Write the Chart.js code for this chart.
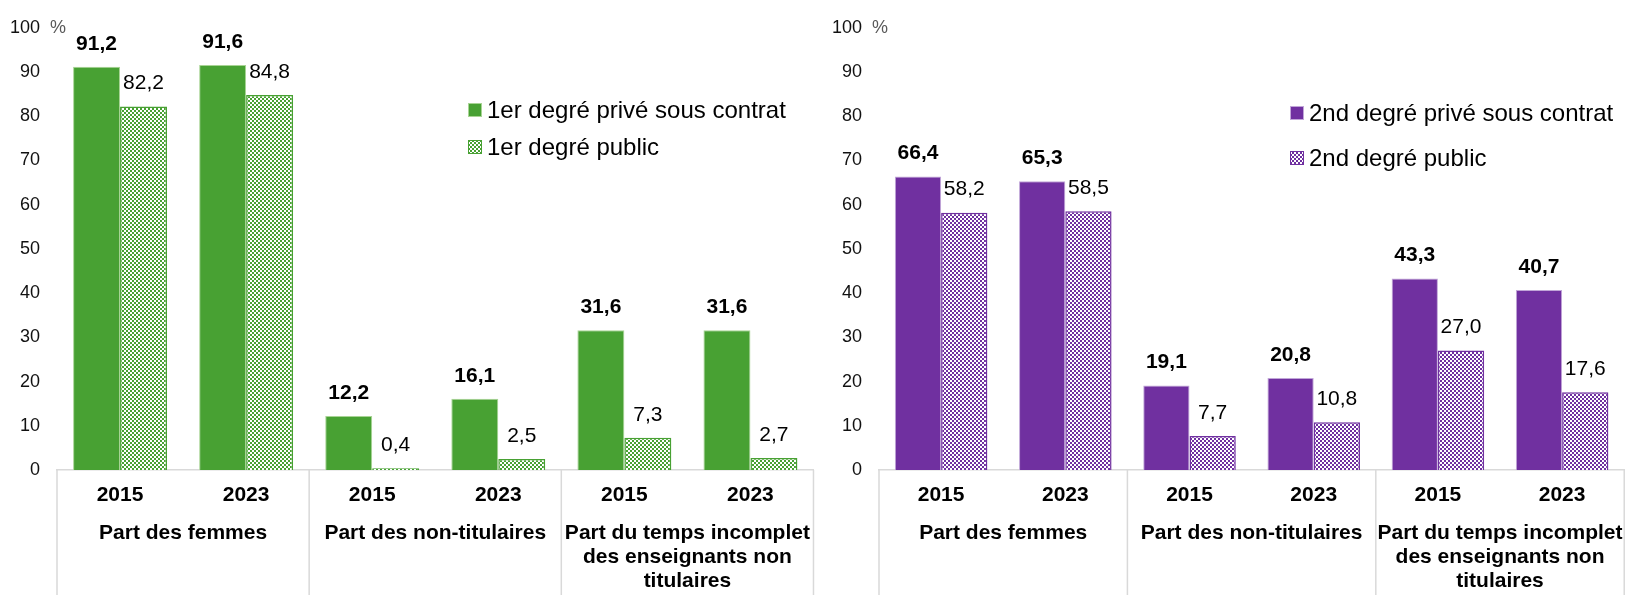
<!DOCTYPE html>
<html>
<head>
<meta charset="utf-8">
<script src="https://cdn.jsdelivr.net/npm/chart.js@4.4.1/dist/chart.umd.min.js"></script>
<style>
  html, body { margin: 0; padding: 0; background: #fff; }
  body { width: 1633px; height: 595px; position: relative; overflow: hidden; }
  .panel { position: absolute; top: 0; height: 595px; }
  #left { left: 0; width: 820px; }
  #right { left: 820px; width: 813px; }
</style>
</head>
<body>
<div class="panel" id="left"><canvas id="chart1" width="820" height="595"></canvas></div>
<div class="panel" id="right"><canvas id="chart2" width="813" height="595"></canvas></div>
<script>
// categories
const years = ["2015", "2023", "2015", "2023", "2015", "2023"];
const groups = [
  ["Part des femmes"],
  ["Part des non-titulaires"],
  ["Part du temps incomplet", "des enseignants non", "titulaires"]
];

// 1er degré
const prive1 = [91.2, 91.6, 12.2, 16.1, 31.6, 31.6];
const public1 = [82.2, 84.8, 0.4, 2.5, 7.3, 2.7];
// 2nd degré
const prive2 = [66.4, 65.3, 19.1, 20.8, 43.3, 40.7];
const public2 = [58.2, 58.5, 7.7, 10.8, 27.0, 17.6];

const seriesNames1 = ["1er degré privé sous contrat", "1er degré public"];
const seriesNames2 = ["2nd degré privé sous contrat", "2nd degré public"];

const FONT = '"Liberation Sans", Arial, sans-serif';
Chart.defaults.font.family = FONT;
Chart.defaults.color = "#000";

const GREEN = "#48a133";
const PURPLE = "#7030a0";

function checker(color) {
  const c = document.createElement("canvas");
  c.width = 4; c.height = 4;
  const g = c.getContext("2d");
  g.fillStyle = "#fff";
  g.fillRect(0, 0, 4, 4);
  g.fillStyle = color;
  g.fillRect(0, 0, 2, 2);
  g.fillRect(2, 2, 2, 2);
  return g.createPattern(c, "repeat");
}

const fmt = v => v.toFixed(1).replace(".", ",");

// boxes under the x axis, one per group
const groupLines = {
  id: "groupLines",
  afterDraw(chart) {
    const { ctx, chartArea, scales: { x } } = chart;
    const xs = [chartArea.left];
    for (let i = 2; i < years.length; i += 2) {
      xs.push((x.getPixelForValue(i - 1) + x.getPixelForValue(i)) / 2);
    }
    xs.push(chartArea.right);
    ctx.save();
    ctx.strokeStyle = "#d9d9d9";
    ctx.lineWidth = 1.5;
    xs.forEach(px => {
      ctx.beginPath();
      ctx.moveTo(px, chartArea.bottom);
      ctx.lineTo(px, chart.height);
      ctx.stroke();
    });
    ctx.restore();
  }
};

const valueLabels = {
  id: "valueLabels",
  afterDatasetsDraw(chart) {
    const ctx = chart.ctx;
    ctx.save();
    ctx.textAlign = "center";
    ctx.textBaseline = "middle";
    ctx.fillStyle = "#000";
    chart.data.datasets.forEach((ds, di) => {
      ctx.font = (di === 0 ? "bold " : "") + "21px " + FONT;
      chart.getDatasetMeta(di).data.forEach((bar, i) => {
        ctx.fillText(fmt(ds.data[i]), bar.x, bar.y - 23);
      });
    });
    ctx.restore();
  }
};

const boxLegend = {
  id: "boxLegend",
  afterDraw(chart, args, opts) {
    const ctx = chart.ctx;
    ctx.save();
    ctx.font = "24px " + FONT;
    ctx.textBaseline = "middle";
    ctx.textAlign = "left";
    chart.data.datasets.forEach((ds, i) => {
      const cy = opts.ys[i];
      ctx.fillStyle = ds.backgroundColor;
      ctx.fillRect(opts.x, cy - 7, 14, 14);
      ctx.strokeStyle = ds.borderColor;
      ctx.lineWidth = 1;
      ctx.strokeRect(opts.x + 0.5, cy - 6.5, 13, 13);
      ctx.fillStyle = "#000";
      ctx.fillText(ds.label, opts.x + 19, cy + 1);
    });
    // the "%" unit next to the top tick
    const y = chart.scales.y;
    ctx.font = "18px " + FONT;
    ctx.fillStyle = "#595959";
    ctx.fillText("%", chart.chartArea.left - 7, y.getPixelForValue(100));
    ctx.restore();
  }
};

function makeChart(id, names, prive, pub, color, paleBorder, o) {
  return new Chart(document.getElementById(id), {
    type: "bar",
    data: {
      labels: years,
      datasets: [
        {
          label: names[0], data: prive, xAxisID: "x",
          backgroundColor: color, borderColor: paleBorder, borderWidth: 1,
          categoryPercentage: 0.745, barPercentage: 1
        },
        {
          label: names[1], data: pub, xAxisID: "x",
          backgroundColor: checker(color), borderColor: color, borderWidth: 1.5,
          categoryPercentage: 0.745, barPercentage: 1
        }
      ]
    },
    options: {
      responsive: false,
      animation: false,
      devicePixelRatio: 1,
      layout: { padding: { top: o.top, right: o.right, left: 0, bottom: 0 } },
      plugins: {
        legend: { display: false },
        tooltip: { enabled: false },
        boxLegend: o.legend
      },
      scales: {
        x: {
          offset: true,
          ticks: { padding: 13, font: { size: 21, weight: "bold" }, autoSkip: false, maxRotation: 0, minRotation: 0 },
          grid: { display: false, drawTicks: false },
          border: { display: true, color: "#d9d9d9", width: 1.5 },
          afterFit: s => { s.height = 42; }
        },
        x2: {
          type: "category",
          position: "bottom",
          labels: groups,
          offset: true,
          ticks: { padding: 9, font: { size: 21, weight: "bold", lineHeight: 24 / 21 }, autoSkip: false, maxRotation: 0, minRotation: 0 },
          grid: { display: false, drawTicks: false },
          border: { display: false },
          afterFit: s => { s.height = 83; }
        },
        y: {
          min: 0, max: 100,
          ticks: { stepSize: 10, padding: 17, color: "#111", font: { size: 18 } },
          grid: { display: false, drawTicks: false },
          border: { display: false },
          afterFit: s => { s.width = o.yWidth; }
        }
      }
    },
    plugins: [groupLines, valueLabels, boxLegend]
  });
}

makeChart("chart1", seriesNames1, prive1, public1, GREEN, "#a8d494", {
  top: 21.5, right: 1, yWidth: 57, legend: { x: 468, ys: [110, 147] }
});
makeChart("chart2", seriesNames2, prive2, public2, PURPLE, "#c1a6d8", {
  top: 15, right: 3, yWidth: 59, legend: { x: 470, ys: [113, 158] }
});
</script>
</body>
</html>
